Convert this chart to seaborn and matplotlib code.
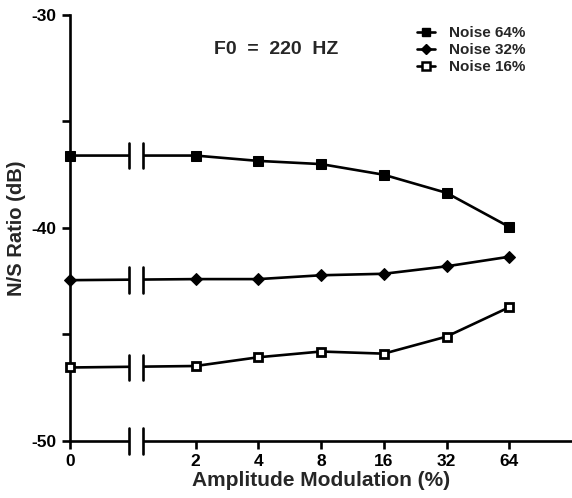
import matplotlib
matplotlib.use("Agg")
import matplotlib.pyplot as plt
import seaborn as sns
import pandas as pd
from matplotlib.patches import Rectangle
from matplotlib.lines import Line2D

# ---- data ----
am_labels = ["0", "2", "4", "8", "16", "32", "64"]
am_pos = [-1, 1, 2, 3, 4, 5, 6]          # log2 scale positions (0 placed before the break)
noise64 = [-36.6, -36.6, -36.85, -37.0, -37.5, -38.35, -39.95]
noise32 = [-42.45, -42.4, -42.4, -42.22, -42.15, -41.8, -41.35]
noise16 = [-46.55, -46.48, -46.07, -45.8, -45.9, -45.1, -43.72]
series_names = ["Noise 64%", "Noise 32%", "Noise 16%"]
y_ticks = [-50, -40, -30]
y_minor = [-45, -35]

sns.set_theme(style="ticks")
plt.rcParams['font.family'] = ['Liberation Sans', 'DejaVu Sans']
plt.rcParams['font.weight'] = 'bold'
plt.rcParams['axes.unicode_minus'] = False

fig = plt.figure(figsize=(5.72, 4.98), dpi=100)
ax = fig.add_axes([0.1224, 0.1145, 0.8776, 0.8554])

styles = [
    dict(marker="s", markersize=7, markerfacecolor="black", markeredgecolor="black"),
    dict(marker="D", markersize=6, markerfacecolor="black", markeredgecolor="black"),
    dict(marker="s", markersize=6, markerfacecolor="white", markeredgecolor="black", markeredgewidth=2.0),
]
leg_styles = [
    dict(marker="s", markersize=6, markerfacecolor="black", markeredgecolor="black"),
    dict(marker="D", markersize=5, markerfacecolor="black", markeredgecolor="black"),
    dict(marker="s", markersize=6, markerfacecolor="white", markeredgecolor="black", markeredgewidth=1.8),
]
handles = []
for name, vals, st, lst in zip(series_names, [noise64, noise32, noise16], styles, leg_styles):
    df = pd.DataFrame({"am": am_pos, "ns": vals})
    sns.lineplot(data=df, x="am", y="ns", ax=ax, color="black", linewidth=1.9,
                 legend=False, zorder=3, clip_on=False, **st)
    handles.append(Line2D([], [], color="black", linewidth=1.9, **lst))

ax.set_xlim(-1, 7)
ax.set_ylim(-50, -30)

# axis break
gap_l, gap_r = -0.06, 0.17
ax.add_patch(Rectangle((gap_l, -50.6), gap_r - gap_l, 21, facecolor="white",
                       edgecolor="none", zorder=4, clip_on=False))
for yv in [noise64[0], noise32[0], noise16[0], -50]:
    for xv in (gap_l, gap_r):
        ax.plot([xv, xv], [yv - 0.6, yv + 0.6], color="black", linewidth=1.9,
                zorder=5, clip_on=False)

sns.despine(ax=ax)
for sp in ('left', 'bottom'):
    ax.spines[sp].set_linewidth(1.9)
    ax.spines[sp].set_color('black')

ax.set_xticks(am_pos)
ax.set_xticklabels(am_labels)
ax.set_yticks(y_ticks)
ax.set_yticks(y_minor, minor=True)
ax.tick_params(axis='both', which='major', direction='out', length=6, width=1.9,
               labelsize=12.5, color='black', labelcolor='black')
ax.tick_params(axis='y', which='minor', direction='out', length=6, width=1.9, color='black')
for lbl in ax.get_xticklabels() + ax.get_yticklabels():
    lbl.set_fontweight('bold')

ax.set_xlabel("Amplitude Modulation (%)", fontsize=15, fontweight='bold', labelpad=1)
ax.set_ylabel("N/S Ratio (dB)", fontsize=14.5, fontweight='bold', labelpad=4)

ax.text(0.41, 0.92, "F0  =  220  HZ", transform=ax.transAxes, ha='center', va='center',
        fontsize=14, fontweight='bold')

leg = ax.legend(handles, series_names, loc='upper left', bbox_to_anchor=(0.729, 0.948),
                bbox_transform=fig.transFigure, borderaxespad=0, borderpad=0,
                frameon=False, prop={'size': 11, 'weight': 'bold'},
                handlelength=1.2, handletextpad=0.9, labelspacing=0.2)

fig.savefig("out.png", dpi=100, facecolor="white")
